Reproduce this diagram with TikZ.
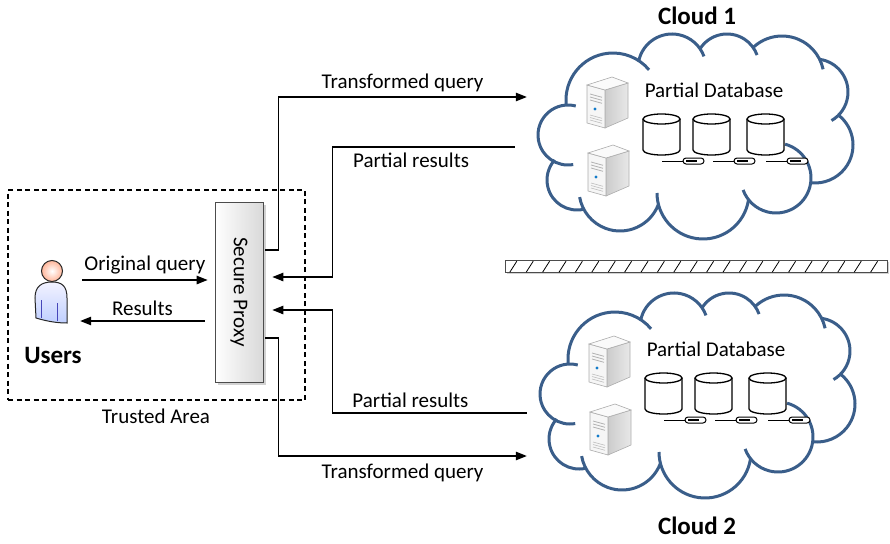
\documentclass[tikz,border=0pt]{standalone}
\usepackage{fontspec}
\usepackage{graphicx}
\setmainfont{Carlito}
\usetikzlibrary{arrows.meta,shadows}
\definecolor{cloudblue}{RGB}{58,94,138}

\begin{document}
\begin{tikzpicture}[x=1pt,y=-1pt,font=\fontsize{21}{24}\selectfont,
  arr/.style={-{Triangle[length=11pt,width=8.5pt]},line width=1.2pt},
  puff/.style={draw=cloudblue,line width=3pt},
  srv/.style={draw=gray!65,line width=.6pt},
  db/.style={draw=black,line width=1.3pt,fill=white},
  big/.style={font=\fontsize{25}{30}\selectfont\bfseries}]
  \useasboundingbox (0,0) rectangle (890,543);

  % trusted area with the user and the proxy
  \node[draw,line width=1.1pt,dash pattern=on 5pt off 3.5pt,
    minimum width=297pt,minimum height=210pt] (trusted) at (156.5,295) {};
  \node (tlbl) at (156,416) {Trusted Area};
  \node[minimum width=36pt,minimum height=72pt,inner sep=0] (user) at (50,290) {};
  \draw[draw=gray!30!black,line width=1pt,top color=blue!5,bottom color=cyan!25!blue!25]
    (36,318) -- (35,298) .. controls (35,286) and (42,282) .. (52,282)
    .. controls (62,282) and (67,286) .. (67,298) -- (67,323)
    .. controls (56,323) and (46,321) .. cycle;
  \draw[blue!45!gray,line width=1pt] (41,300) -- (41,318) (57,303) -- (57,321);
  \shade[inner color=white,outer color=orange!55!red!40] (52,271) circle (10.5);
  \draw[gray!30!black,line width=1pt] (52,271) circle (10.5);
  \node[big] (ulbl) at (53,355) {Users};
  \node[draw=gray!60!black,line width=.8pt,left color=white,right color=gray!30,
    minimum width=48pt,minimum height=180pt,inner sep=0,
    drop shadow={shadow xshift=2.5pt,shadow yshift=-2.5pt,fill=gray!70}]
    (proxy) at (239,292) {\rotatebox{-90}{Secure Proxy}};

  % the two clouds
  \foreach \n/\dx/\dy in {1/0/0,2/2/259}{
    \begin{scope}[shift={(\dx,\dy)}]
      \node[minimum width=315pt,minimum height=206pt,inner sep=0] (cloud\n) at (695.5,135) {};
      \foreach \cx/\cy/\r/\a/\b in {613/100/47/173.8/320, 672/68/34/192/340,
          727/66/32/212.5/340, 782/78/42/226.5/348, 815/92/33/277.8/420,
          815/145/38/308.2/456.5, 776/178/35/-75/160, 703/193/46/8.4/180,
          620/190/41/20.7/170, 577/180/30/76.9/222, 568/135/30/80/285}
        \draw[puff] (\cx,\cy) ++(\a:\r) arc (\a:\b:\r);
      % servers
      \foreach \sx/\sy in {587/77,588/145}{
        \begin{scope}[shift={(\sx,\sy)}]
          \draw[srv,left color=gray!40,right color=gray!18] (18,13) -- (41,6) -- (41,41) -- (18,51) -- cycle;
          \draw[srv,fill=gray!7] (0,8) -- (18,13) -- (18,51) -- (0,46) -- cycle;
          \draw[srv,fill=gray!4] (0,8) -- (25,0) -- (41,6) -- (18,13) -- cycle;
          \foreach \yy in {17,20,23}
            \draw[gray!60,line width=.8pt] (3,\yy) -- ++(12,3.3);
          \foreach \yy in {38,40.5,43}
            \draw[gray!50,line width=.6pt] (3,\yy) -- ++(12,3.3);
          \fill[cyan!60!blue] (8,32) circle (1.6);
        \end{scope}
      }
      \node (pdb\n) at (714,90) {Partial Database};
      % database shards and their links
      \foreach \x in {643,693,747}{
        \draw[db] (\x,119) -- (\x,150) arc (180:0:18.5 and 5) -- (\x+37,119);
        \draw[db] (\x+18.5,119) ellipse (18.5 and 5);
      }
      \foreach \x in {662,713,766}{
        \draw[line width=1pt] (\x,161) -- ++(21,0);
        \draw[line width=1pt,fill=white,rounded corners=3pt] (\x+21,158) rectangle ++(21,6);
        \draw[line width=2pt] (\x+24,161) -- ++(11,0);
      }
    \end{scope}
  }
  \node[big] (c1lbl) at (697,16) {Cloud 1};
  \node[big] (c2lbl) at (697,526) {Cloud 2};

  % wall between the clouds
  \node[draw=gray!60!black,fill=white,minimum width=382pt,minimum height=12pt,inner sep=0,
    drop shadow={shadow xshift=2pt,shadow yshift=-2pt,fill=gray!70}] (wall) at (696,266) {};
  \foreach \i in {0,...,22}
    \draw[line width=.8pt] ([xshift=\i*16.4pt+5pt]wall.south west) -- ++(7,-11);

  % queries and results
  \draw[arr] ([xshift=14pt,yshift=10pt]user.east) -- node[above=2pt] {Original query}
    ([xshift=-7pt,yshift=12pt]proxy.west);
  \draw[arr] ([xshift=-10pt,yshift=-29pt]proxy.west) -- node[above=1pt] {Results}
    ([xshift=12pt,yshift=-31pt]user.east);
  \draw[arr] ([xshift=2pt,yshift=42pt]proxy.east) -- ++(13,0)
    |- node[pos=.75,above=1pt] {Transformed query} ([xshift=-11pt,yshift=38pt]cloud1.west);
  \draw[arr] ([xshift=-23pt,yshift=-12pt]cloud1.west) -- node[pos=.57,below=2pt] {Partial results}
    ++(-182,0) |- ([xshift=9pt,yshift=15pt]proxy.east);
  \draw[arr] ([xshift=-13pt,yshift=-19pt]cloud2.west) -- node[pos=.6,above=1pt] {Partial results}
    ++(-194,0) |- ([xshift=9pt,yshift=-18pt]proxy.east);
  \draw[arr] ([xshift=2pt,yshift=-46pt]proxy.east) -- ++(13,0)
    |- node[pos=.75,below=4pt] {Transformed query} ([xshift=-13pt,yshift=-62pt]cloud2.west);
\end{tikzpicture}
\end{document}
